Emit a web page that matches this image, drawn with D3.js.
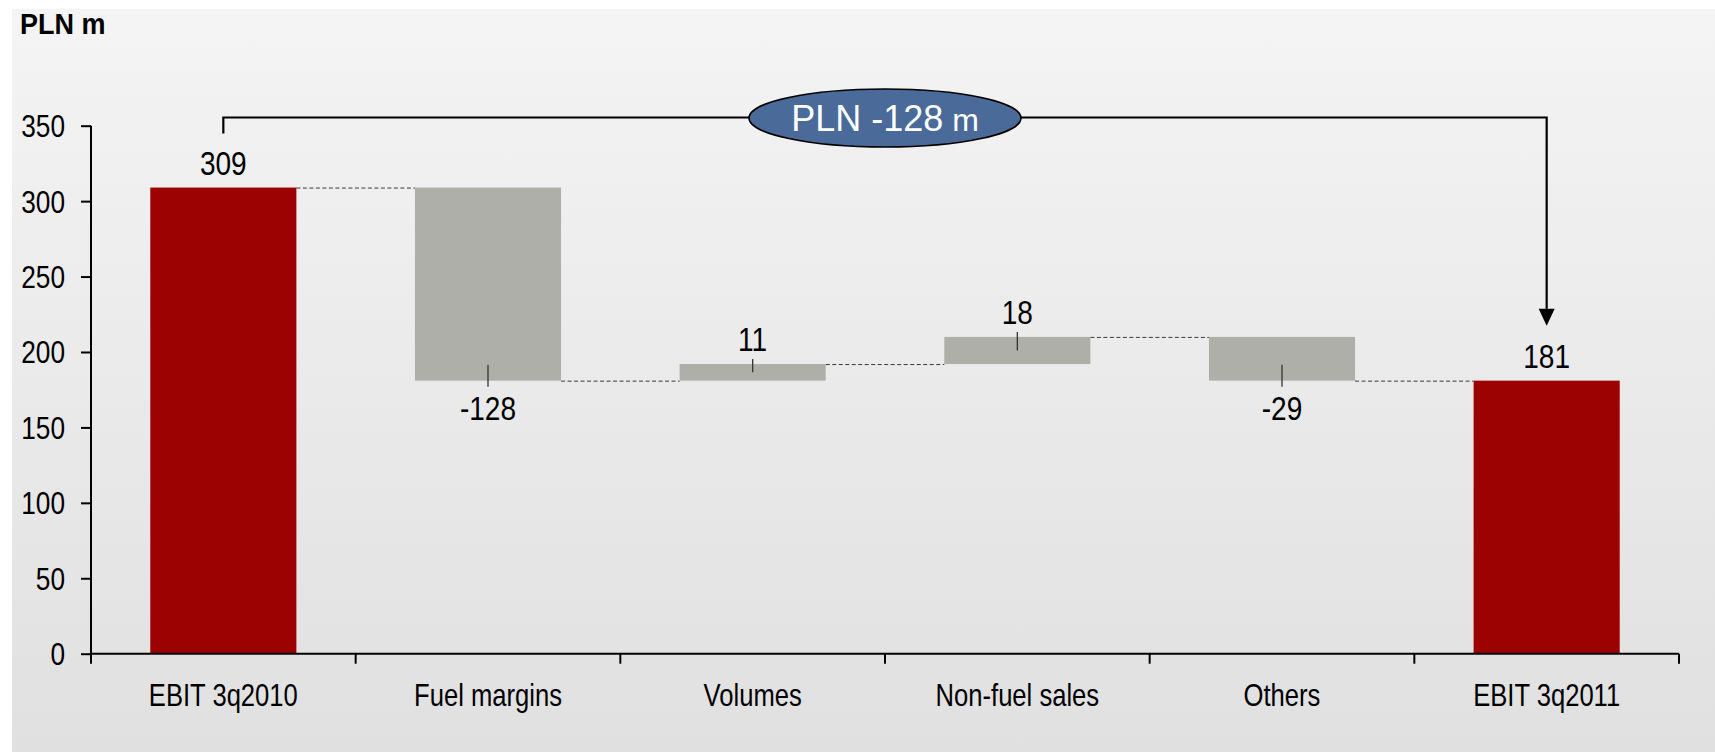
<!DOCTYPE html>
<html>
<head>
<meta charset="utf-8">
<script src="https://cdn.jsdelivr.net/npm/d3@7"></script>
<style>
  html, body { margin: 0; padding: 0; background: #ffffff; }
  svg { display: block; }
</style>
</head>
<body>
<svg id="chart" width="1715" height="752"></svg>
<script>
// ---- data ----
const categories = ["EBIT 3q2010", "Fuel margins", "Volumes", "Non-fuel sales", "Others", "EBIT 3q2011"];
const values = [309, -128, 11, 18, -29, 181];
const isTotal = [true, false, false, false, false, true];
const yTicks = [0, 50, 100, 150, 200, 250, 300, 350];
const unitLabel = "PLN m";
const bridgeText = "PLN -128";
const bridgeUnit = " m";

// ---- layout ----
const W = 1715, H = 752;
const svg = d3.select("#chart");
const FONT = '"Liberation Sans Narrow", "Arial Narrow", "Liberation Sans", Arial, sans-serif';
const FONT_REG = '"Liberation Sans", Arial, sans-serif';

// condense text horizontally about its anchor x
function narrow(sel, k) {
  sel.each(function () {
    const t = d3.select(this);
    const ax = +(t.attr("x") || 0);
    t.attr("transform", `translate(${ax},0) scale(${k},1) translate(${-ax},0)`);
  });
}

// background
const defs = svg.append("defs");
const grad = defs.append("linearGradient").attr("id", "bg").attr("x1", 0).attr("y1", 0).attr("x2", 0).attr("y2", 1);
grad.append("stop").attr("offset", "0%").attr("stop-color", "#f4f4f4");
grad.append("stop").attr("offset", "100%").attr("stop-color", "#e0e0e0");
svg.append("rect").attr("x", 12).attr("y", 9).attr("width", W - 12).attr("height", H - 9).attr("fill", "url(#bg)");

const x = d3.scaleBand().domain(categories).range([91, 1679]).padding(0);
const y = d3.scaleLinear().domain([0, 350]).range([653.7, 125.7]);
const barW = x.bandwidth() * 0.552;

// compute waterfall segments
let running = 0;
const segs = categories.map((c, i) => {
  let lo, hi, end;
  if (isTotal[i]) { lo = 0; hi = values[i]; end = values[i]; running = values[i]; }
  else { const start = running; end = running + values[i]; lo = Math.min(start, end); hi = Math.max(start, end); running = end; }
  return { c, v: values[i], lo, hi, end, total: isTotal[i] };
});

// connectors (dashed)
svg.append("g").selectAll("line").data(segs.slice(0, -1)).join("line")
  .attr("x1", (d) => x(d.c) + x.bandwidth() / 2 + barW / 2)
  .attr("x2", (d, i) => x(segs[i + 1].c) + x.bandwidth() / 2 - barW / 2)
  .attr("y1", (d) => y(d.end) + 0.5)
  .attr("y2", (d) => y(d.end) + 0.5)
  .attr("stroke", "#3a3a3a").attr("stroke-width", 1).attr("stroke-dasharray", "4,2.5");

// bars
svg.append("g").selectAll("rect").data(segs).join("rect")
  .attr("x", (d) => x(d.c) + x.bandwidth() / 2 - barW / 2)
  .attr("width", barW)
  .attr("y", (d) => y(d.hi))
  .attr("height", (d) => y(d.lo) - y(d.hi))
  .attr("fill", (d) => d.total ? "#9c0202" : "#afafaa");

// leader ticks for deltas
const deltas = segs.filter((d) => !d.total);
svg.append("g").selectAll("line").data(deltas).join("line")
  .attr("x1", (d) => x(d.c) + x.bandwidth() / 2)
  .attr("x2", (d) => x(d.c) + x.bandwidth() / 2)
  .attr("y1", (d) => {
    const h = y(d.lo) - y(d.hi);
    return d.v >= 0 ? y(d.hi) - 5 : y(d.lo) - Math.min(16, h / 2);
  })
  .attr("y2", (d) => {
    const h = y(d.lo) - y(d.hi);
    return d.v >= 0 ? y(d.hi) + Math.min(15, h / 2) : y(d.lo) + 6;
  })
  .attr("stroke", "#333").attr("stroke-width", 1.3);

// value labels
svg.append("g").selectAll("text").data(segs).join("text")
  .attr("x", (d) => x(d.c) + x.bandwidth() / 2)
  .attr("y", (d) => d.v >= 0 ? y(d.hi) - 13 : y(d.lo) + 39)
  .attr("text-anchor", "middle")
  .attr("font-family", FONT).attr("font-size", 33).attr("fill", "#000")
  .text((d) => d.v)
  .call(narrow, 0.85);

// y axis
const yAxis = svg.append("g").attr("transform", "translate(91,0)")
  .call(d3.axisLeft(y).tickValues(yTicks).tickSize(10).tickPadding(16).tickFormat(d3.format("d")));
yAxis.select(".domain").attr("stroke", "#000").attr("stroke-width", 2).attr("d", `M0,${y(350)}V${y(0)}`);
yAxis.selectAll(".tick line").attr("stroke", "#000").attr("stroke-width", 2);
yAxis.selectAll(".tick text").attr("font-family", FONT).attr("font-size", 32).attr("fill", "#000").attr("dy", "0.34em")
  .call(narrow, 0.82);

// x axis
const xAxis = svg.append("g").attr("transform", `translate(0,${y(0)})`)
  .call(d3.axisBottom(x).tickSize(0).tickPadding(0));
xAxis.select(".domain").attr("stroke", "#000").attr("stroke-width", 2).attr("d", `M91,0H1679`);
xAxis.selectAll(".tick text").attr("font-family", FONT).attr("font-size", 32).attr("fill", "#000")
  .attr("dy", 0).attr("y", 52)
  .call(narrow, 0.8);
// boundary ticks
const bounds = categories.map((c) => x(c)).concat([x(categories[categories.length - 1]) + x.bandwidth()]);
xAxis.append("g").selectAll("line").data(bounds).join("line")
  .attr("x1", (d) => d).attr("x2", (d) => d).attr("y1", 0).attr("y2", 10)
  .attr("stroke", "#000").attr("stroke-width", 2);

// unit label
svg.append("text").attr("x", 20).attr("y", 34)
  .attr("font-family", FONT).attr("font-weight", "bold").attr("font-size", 30).attr("fill", "#000")
  .text(unitLabel)
  .call(narrow, 0.9);

// bridge bracket
const xa = x(categories[0]) + x.bandwidth() / 2;
const xb = x(categories[categories.length - 1]) + x.bandwidth() / 2;
const yBr = 117.5;
svg.append("path")
  .attr("d", `M${xa},${yBr + 16}V${yBr}H${xb}V${y(values[values.length - 1]) - 72}`)
  .attr("fill", "none").attr("stroke", "#000").attr("stroke-width", 2.2);
const tipY = y(values[values.length - 1]) - 55;
svg.append("path")
  .attr("d", `M${xb - 8},${tipY - 17}L${xb + 8},${tipY - 17}L${xb},${tipY}Z`)
  .attr("fill", "#000");

// ellipse
const ex = (xa + xb) / 2;
svg.append("ellipse").attr("cx", ex).attr("cy", yBr + 0.5).attr("rx", 136).attr("ry", 29)
  .attr("fill", "#4a6a9a").attr("stroke", "#000").attr("stroke-width", 1.6);
const et = svg.append("text").attr("x", ex).attr("y", yBr + 13.5).attr("text-anchor", "middle")
  .attr("font-family", FONT_REG).attr("font-size", 36).attr("fill", "#fff");
et.append("tspan").text(bridgeText);
et.append("tspan").attr("font-size", 32).text(bridgeUnit);
</script>
</body>
</html>
